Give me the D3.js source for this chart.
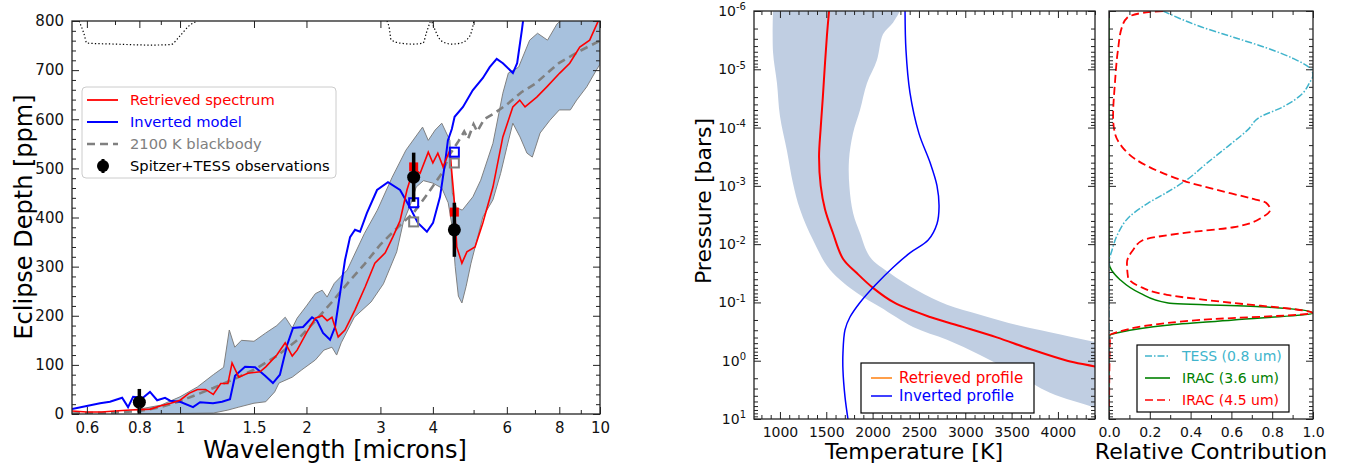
<!DOCTYPE html>
<html>
<head>
<meta charset="utf-8">
<script src="https://d3js.org/d3.v7.min.js"></script>
<style>
  body { margin: 0; background: #fff; }
  svg { font-family: "DejaVu Sans", sans-serif; }
</style>
</head>
<body>
<script>
// ---- left panel: emission spectrum (wavelength in microns, depth in ppm) ----
const retWave = [0.553,0.60,0.65,0.70,0.76,0.80,0.85,0.90,0.95,1.00,1.05,1.10,1.15,1.20,1.25,1.30,1.33,1.38,1.45,1.55,1.60,1.70,1.78,1.85,1.90,2.00,2.10,2.18,2.24,2.30,2.38,2.47,2.61,2.76,2.91,3.08,3.21,3.34,3.47,3.60,3.73,3.90,4.00,4.11,4.23,4.39,4.49,4.56,4.69,4.82,5.04,5.26,5.56,5.87,6.20,6.44,6.63,7.07,7.47,8.02,8.47,8.95,9.45,10.0];
const retDepth = [6,4,4,6,8,9,10,17,22,28,42,50,50,40,62,62,104,75,83,86,96,120,145,118,130,165,195,200,190,197,157,171,212,259,307,328,360,393,456,500,490,533,511,531,503,537,442,340,307,330,340,389,462,564,625,639,625,645,666,694,714,747,761,808];

const invWave = [0.553,0.645,0.681,0.728,0.752,0.773,0.816,0.848,0.882,0.921,0.947,1.0,1.074,1.116,1.198,1.259,1.315,1.352,1.428,1.509,1.594,1.664,1.729,1.798,1.858,1.963,2.062,2.119,2.190,2.276,2.339,2.405,2.470,2.540,2.610,2.683,2.785,2.945,3.127,3.341,3.525,3.685,3.871,4.003,4.160,4.276,4.343,4.438,4.506,4.718,4.976,5.262,5.462,5.676,5.872,6.203,6.349,6.517,6.627];
const invDepth = [10,22,25,33,14,35,33,45,28,33,27,25,14,24,22,25,30,78,96,95,78,63,80,140,175,177,197,190,165,151,177,246,313,360,375,371,409,456,472,456,421,389,371,389,442,511,557,580,605,625,659,684,706,723,714,694,714,782,830];

const bbWave = [0.553,0.60,0.70,0.80,0.90,1.00,1.10,1.20,1.35,1.50,1.70,1.90,2.10,2.30,2.50,2.75,3.00,3.30,3.60,3.90,4.20,4.40,4.60,4.75,4.85,5.00,5.10,5.30,5.60,6.00,6.50,7.00,8.00,9.00,10.0];
const bbDepth = [1,2,3,6,14,26,40,53,72,90,118,150,190,228,265,305,345,380,410,450,490,530,555,575,560,590,575,600,612,630,655,672,715,740,760];

const bandHiWave = [0.80,0.90,1.00,1.10,1.20,1.27,1.31,1.35,1.40,1.50,1.60,1.70,1.78,1.85,1.90,2.00,2.10,2.18,2.24,2.33,2.50,2.75,2.95,3.20,3.45,3.78,3.90,4.05,4.20,4.39,4.45,4.55,4.70,4.98,5.20,5.56,5.87,6.05,6.40,6.80,7.10,7.50,7.90,8.30,10.0];
const bandHi = [10,18,35,55,80,95,171,136,150,148,165,180,197,175,195,220,245,252,238,266,293,368,415,482,537,584,557,578,592,557,450,420,415,442,476,551,653,694,706,761,775,761,794,810,850];
const bandLoWave = [0.80,0.90,1.00,1.20,1.30,1.38,1.50,1.60,1.68,1.72,1.85,1.95,2.10,2.20,2.30,2.36,2.42,2.60,2.85,3.05,3.28,3.40,3.55,3.65,3.80,4.00,4.20,4.35,4.45,4.52,4.60,4.69,4.80,4.93,5.26,5.56,5.80,6.00,6.20,6.45,6.70,6.90,7.20,7.60,8.00,8.50,8.80,9.30,9.80,10.0];
const bandLo = [1,1,1,2,8,14,22,25,45,63,75,90,110,130,136,120,145,197,228,265,330,390,430,462,475,470,460,430,380,300,240,226,260,307,401,436,490,543,592,564,531,523,572,598,619,619,639,666,700,712];

// filter response curves drawn at the top of the panel
const tessWave = [0.575,0.59,0.60,0.70,0.85,0.95,1.00,1.05,1.10];
const tessResp = [800,775,755,753,751,752,770,790,800];
const irac1Wave = [3.11,3.15,3.18,3.34,3.60,3.79,3.86,3.94];
const irac1Resp = [800,785,762,755,753,755,776,798];
const irac2Wave = [3.98,4.08,4.16,4.30,4.44,4.65,4.82,4.95,5.01];
const irac2Resp = [798,775,762,755,753,755,762,780,800];

const obsWave = [0.8, 3.6, 4.5];
const obsDepth = [24, 482, 375];
const obsErr = [27, 50, 55];
const binWave = [3.6, 4.5];
const binRet = [503, 411];
const binInv = [430, 533];
const binBB = [391, 511];

const waveMajor = [0.6,0.8,1,1.5,2,3,4,6,8,10];
const waveMinor = [0.7,0.9,5,7,9];

// ---- middle panel: temperature profiles (log10 pressure in bars, temperature in K) ----
const retLogP = [-6,-5.6,-5.1,-4.5,-4.0,-3.5,-3.0,-2.6,-2.2,-1.75,-1.5,-1.25,-1.0,-0.75,-0.58,-0.4,-0.2,0.0,0.1,0.3];
const retT = [1530,1508,1486,1462,1440,1422,1440,1486,1570,1680,1832,2004,2230,2620,2975,3340,3700,4100,4400,4900];
const invLogP = [-6,-5.33,-4.6,-3.9,-3.4,-3.0,-2.64,-2.35,-2.07,-1.85,-1.6,-1.3,-1.0,-0.75,-0.53,-0.13,0.16,0.62,1.0];
const invT = [2350,2360,2403,2500,2620,2695,2717,2695,2600,2403,2220,2030,1864,1756,1702,1680,1680,1702,1734];
const tBandHiLogP = [-6,-5.8,-5.6,-5.16,-4.76,-4.3,-3.9,-3.44,-2.98,-2.53,-2.19,-1.78,-1.5,-1.21,-0.96,-0.79,-0.6,-0.49,-0.32,-0.1];
const tBandHiT = [2296,2220,2112,2047,1939,1864,1788,1745,1750,1790,1864,1972,2188,2479,2803,3159,3590,3914,4400,5000];
const tBandLoLogP = [-6,-5.3,-4.76,-4.2,-3.6,-3.05,-2.6,-2.07,-1.56,-1.16,-0.92,-0.58,-0.36,-0.1,0.2,0.55,0.81,1.0];
const tBandLoT = [925,925,968,1000,1076,1140,1216,1357,1540,1832,2080,2436,2803,3159,3520,3914,4400,4700];

// ---- right panel: contribution functions ----
const tessLogP = [-6,-5.73,-5.55,-5.37,-5.19,-5.0,-4.9,-4.75,-4.59,-4.35,-4.18,-3.96,-3.67,-3.39,-3.1,-2.88,-2.7,-2.47,-2.19,-1.9,-1.68,1.0];
const tessCf = [0.265,0.45,0.61,0.77,0.90,0.99,1.0,0.98,0.95,0.85,0.74,0.68,0.58,0.48,0.38,0.28,0.19,0.10,0.045,0.015,0.0,0.0];
const ch1LogP = [-6,-1.68,-1.39,-1.16,-0.99,-0.92,-0.82,-0.7,-0.61,-0.49,-0.44,-0.36,1.0];
const ch1Cf = [0,0,0.054,0.152,0.29,0.774,1.0,0.61,0.284,0.054,0.005,0,0];
const ch2LogP = [-6,-5.97,-5.88,-5.73,-5.33,-4.76,-4.18,-3.9,-3.67,-3.44,-3.24,-3.07,-2.93,-2.79,-2.71,-2.59,-2.47,-2.29,-2.19,-2.07,-1.9,-1.68,-1.44,-1.27,-1.13,-0.99,-0.87,-0.82,-0.7,-0.49,-0.44,1.0];
const ch2Cf = [0.265,0.167,0.088,0.064,0.044,0.029,0.02,0.029,0.064,0.137,0.25,0.38,0.53,0.69,0.77,0.79,0.755,0.61,0.363,0.167,0.118,0.088,0.093,0.152,0.284,0.61,0.936,1.0,0.446,0.04,0.005,0];

const pMajor = [1e-6,1e-5,1e-4,1e-3,1e-2,1e-1,1,10];
const tMajor = [1000,1500,2000,2500,3000,3500,4000];
const cfMajor = [0,0.2,0.4,0.6,0.8,1.0];

// ---------------------------------------------------------------------------
const svg = d3.select("body").append("svg").attr("width", 1346).attr("height", 469);

const L = {x0: 72, x1: 600, y0: 21, y1: 414};
const T = {x0: 754, x1: 1095, y0: 11, y1: 419};
const C = {x0: 1109, x1: 1313, y0: 11, y1: 419};

const xW = d3.scaleLog().domain([0.553, 10]).range([L.x0, L.x1]);
const yD = d3.scaleLinear().domain([0, 800]).range([L.y1, L.y0]);
const xT = d3.scaleLinear().domain([720, 4400]).range([T.x0, T.x1]);
const yP = d3.scaleLog().domain([1e-6, 10]).range([T.y0, T.y1]);
const xC = d3.scaleLinear().domain([0, 1]).range([C.x0, C.x1]);

const defs = svg.append("defs");
function clip(id, b) {
  defs.append("clipPath").attr("id", id).append("rect")
    .attr("x", b.x0).attr("y", b.y0).attr("width", b.x1 - b.x0).attr("height", b.y1 - b.y0);
}
clip("cl", L); clip("ct", T); clip("cc", C);

const zip = (a, b) => a.map((v, i) => [v, b[i]]);
const P = lp => Math.pow(10, lp);

// ticks pointing inward, on all four sides
function ticks(b, xs, ys, opt) {
  const g = svg.append("g");
  const fs = opt.fs || 14;
  const put = (gen, tr, vals, size, fmt) => {
    const a = g.append("g").attr("transform", tr)
      .call(gen.tickValues(vals).tickSizeInner(-size).tickSizeOuter(0).tickPadding(8)
        .tickFormat(fmt || ""));
    a.select(".domain").remove();
    a.selectAll("line").attr("stroke", "#222").attr("stroke-width", 1);
    a.selectAll("text").attr("font-size", fs).attr("fill", "#111")
      .attr("font-family", "DejaVu Sans, sans-serif");
    return a;
  };
  put(d3.axisBottom(xs), `translate(0,${b.y1})`, opt.xMajor, 7, opt.xFmt);
  put(d3.axisTop(xs), `translate(0,${b.y0})`, opt.xMajor, 7);
  put(d3.axisBottom(xs), `translate(0,${b.y1})`, opt.xMinor, 4);
  put(d3.axisTop(xs), `translate(0,${b.y0})`, opt.xMinor, 4);
  const yl = put(d3.axisLeft(ys), `translate(${b.x0},0)`, opt.yMajor, 7, opt.yFmt);
  put(d3.axisRight(ys), `translate(${b.x1},0)`, opt.yMajor, 7);
  put(d3.axisLeft(ys), `translate(${b.x0},0)`, opt.yMinor, 4);
  put(d3.axisRight(ys), `translate(${b.x1},0)`, opt.yMinor, 4);
  svg.append("rect").attr("x", b.x0).attr("y", b.y0)
    .attr("width", b.x1 - b.x0).attr("height", b.y1 - b.y0)
    .attr("fill", "none").attr("stroke", "#222").attr("stroke-width", 1.3);
  return yl;
}

// ================= left panel =================
const gL = svg.append("g").attr("clip-path", "url(#cl)");
const lineW = d3.line().x(d => xW(d[0])).y(d => yD(d[1]));

const bandPts = zip(bandHiWave, bandHi).concat(zip(bandLoWave, bandLo).reverse());
gL.append("path").attr("d", lineW(bandPts) + "Z")
  .attr("fill", "#a7c1dd").attr("stroke", "#808080").attr("stroke-width", 1);

[[tessWave, tessResp], [irac1Wave, irac1Resp], [irac2Wave, irac2Resp]].forEach(([w, r]) => {
  gL.append("path").attr("d", lineW.curve(d3.curveMonotoneX)(zip(w, r)))
    .attr("fill", "none").attr("stroke", "#000").attr("stroke-width", 1.2)
    .attr("stroke-dasharray", "1.3,2.2");
});
lineW.curve(d3.curveLinear);

gL.append("path").attr("d", lineW(zip(bbWave, bbDepth)))
  .attr("fill", "none").attr("stroke", "#808080").attr("stroke-width", 2.6)
  .attr("stroke-dasharray", "8,5");
gL.append("path").attr("d", lineW(zip(invWave, invDepth)))
  .attr("fill", "none").attr("stroke", "#0000ff").attr("stroke-width", 2);
gL.append("path").attr("d", lineW(zip(retWave, retDepth)))
  .attr("fill", "none").attr("stroke", "#ff0000").attr("stroke-width", 1.6);

const sq = 9;
binWave.forEach((w, i) => {
  gL.append("rect").attr("x", xW(w) - sq / 2).attr("y", yD(binRet[i]) - sq / 2)
    .attr("width", sq).attr("height", sq).attr("fill", "#ff0000");
  gL.append("rect").attr("x", xW(w) - sq / 2).attr("y", yD(binBB[i]) - sq / 2)
    .attr("width", sq).attr("height", sq).attr("fill", "none")
    .attr("stroke", "#808080").attr("stroke-width", 2);
  gL.append("rect").attr("x", xW(w) - sq / 2).attr("y", yD(binInv[i]) - sq / 2)
    .attr("width", sq).attr("height", sq).attr("fill", "none")
    .attr("stroke", "#0000ff").attr("stroke-width", 2);
});
obsWave.forEach((w, i) => {
  gL.append("line").attr("x1", xW(w)).attr("x2", xW(w))
    .attr("y1", yD(obsDepth[i] - obsErr[i])).attr("y2", yD(obsDepth[i] + obsErr[i]))
    .attr("stroke", "#000").attr("stroke-width", 3.5);
  gL.append("circle").attr("cx", xW(w)).attr("cy", yD(obsDepth[i])).attr("r", 6.5).attr("fill", "#000");
});

ticks(L, xW, yD, {
  fs: 15,
  xMajor: waveMajor, xMinor: waveMinor, xFmt: d => String(d),
  yMajor: d3.range(0, 801, 100), yMinor: d3.range(0, 801, 20).filter(v => v % 100),
  yFmt: d => String(d)
});

svg.append("text").attr("x", 335).attr("y", 458).attr("text-anchor", "middle")
  .attr("font-size", 24).text("Wavelength [microns]");
svg.append("text").attr("transform", "translate(32,217) rotate(-90)").attr("text-anchor", "middle")
  .attr("font-size", 24).text("Eclipse Depth [ppm]");

// legend
const lg = svg.append("g");
lg.append("rect").attr("x", 82).attr("y", 87).attr("width", 254).attr("height", 91).attr("rx", 4)
  .attr("fill", "#fff").attr("fill-opacity", 0.8).attr("stroke", "#cccccc");
const legL = [
  {t: "Retrieved spectrum", c: "#ff0000", tc: "#ff0000", w: 1.8},
  {t: "Inverted model", c: "#0000ff", tc: "#0000ff", w: 2},
  {t: "2100 K blackbody", c: "#808080", tc: "#808080", w: 2.6, dash: "8,5"},
  {t: "Spitzer+TESS observations", c: "#000", tc: "#000", pt: true}
];
legL.forEach((e, i) => {
  const y = 100 + i * 22;
  if (e.pt) {
    lg.append("line").attr("x1", 103).attr("x2", 103).attr("y1", y - 7).attr("y2", y + 7)
      .attr("stroke", "#000").attr("stroke-width", 3);
    lg.append("circle").attr("cx", 103).attr("cy", y).attr("r", 6).attr("fill", "#000");
  } else {
    lg.append("line").attr("x1", 87).attr("x2", 118).attr("y1", y).attr("y2", y)
      .attr("stroke", e.c).attr("stroke-width", e.w).attr("stroke-dasharray", e.dash || null);
  }
  lg.append("text").attr("x", 130).attr("y", y + 5).attr("font-size", 14.7).attr("fill", e.tc).text(e.t);
});

// ================= temperature panel =================
const gT = svg.append("g").attr("clip-path", "url(#ct)");
const lineT = d3.line().x(d => xT(d[0])).y(d => yP(P(d[1]))).curve(d3.curveCatmullRom);
const tBand = zip(tBandHiT, tBandHiLogP).concat(zip(tBandLoT, tBandLoLogP).reverse());
gT.append("path").attr("d", lineT(tBand) + "Z").attr("fill", "#c0cee2").attr("stroke", "none");
gT.append("path").attr("d", lineT(zip(retT, retLogP))).attr("fill", "none")
  .attr("stroke", "#ff0000").attr("stroke-width", 2);
gT.append("path").attr("d", lineT(zip(invT, invLogP))).attr("fill", "none")
  .attr("stroke", "#0000ff").attr("stroke-width", 1.5);

const pMinor = [];
pMajor.slice(0, -1).forEach(p => { for (let k = 2; k <= 9; k++) pMinor.push(p * k); });
const yAx = ticks(T, xT, yP, {
  xMajor: tMajor, xMinor: d3.range(800, 4401, 100).filter(v => v % 500), xFmt: d => String(d),
  yMajor: pMajor, yMinor: pMinor, yFmt: d => "x"
});
yAx.selectAll("text").each(function (d) {
  const e = Math.round(Math.log10(d));
  const t = d3.select(this).text(null);
  t.append("tspan").text("10");
  t.append("tspan").attr("dy", "-0.55em").attr("font-size", 10).text(e);
});

svg.append("text").attr("x", 914).attr("y", 459).attr("text-anchor", "middle")
  .attr("font-size", 22).text("Temperature [K]");
svg.append("text").attr("transform", "translate(711,201) rotate(-90)").attr("text-anchor", "middle")
  .attr("font-size", 22).text("Pressure [bars]");

const lt = svg.append("g");
lt.append("rect").attr("x", 861).attr("y", 363).attr("width", 173).attr("height", 50)
  .attr("fill", "#fff").attr("stroke", "#000").attr("stroke-width", 1.2);
[["Retrieved profile", "#ff7f0e", "#ff0000"], ["Inverted profile", "#0000ff", "#0000ff"]].forEach((e, i) => {
  const y = 378 + i * 18;
  lt.append("line").attr("x1", 871).attr("x2", 892).attr("y1", y).attr("y2", y)
    .attr("stroke", e[1]).attr("stroke-width", 1.5);
  lt.append("text").attr("x", 899).attr("y", y + 5).attr("font-size", 15).attr("fill", e[2]).text(e[0]);
});

// ================= contribution panel =================
const gC = svg.append("g").attr("clip-path", "url(#cc)");
const lineC = d3.line().x(d => xC(d[0])).y(d => yP(P(d[1]))).curve(d3.curveMonotoneY);
gC.append("path").attr("d", lineC(zip(ch1Cf, ch1LogP))).attr("fill", "none")
  .attr("stroke", "#008000").attr("stroke-width", 1.5);
gC.append("path").attr("d", lineC(zip(tessCf, tessLogP))).attr("fill", "none")
  .attr("stroke", "#40b4cc").attr("stroke-width", 1.5).attr("stroke-dasharray", "7,2,1.5,2");
gC.append("path").attr("d", lineC(zip(ch2Cf, ch2LogP))).attr("fill", "none")
  .attr("stroke", "#ff0000").attr("stroke-width", 1.8).attr("stroke-dasharray", "8,4");

ticks(C, xC, yP, {
  xMajor: cfMajor, xMinor: [0.1,0.3,0.5,0.7,0.9], xFmt: d3.format(".1f"),
  yMajor: pMajor, yMinor: pMinor
});
svg.append("text").attr("x", 1211).attr("y", 459).attr("text-anchor", "middle")
  .attr("font-size", 22).text("Relative Contribution");

const lc = svg.append("g");
lc.append("rect").attr("x", 1137).attr("y", 345).attr("width", 152).attr("height", 67)
  .attr("fill", "#fff").attr("stroke", "#000").attr("stroke-width", 1.2);
[["TESS (0.8 um)", "#40b4cc", "7,2,1.5,2"], ["IRAC (3.6 um)", "#008000", null], ["IRAC (4.5 um)", "#ff0000", "8,4"]]
  .forEach((e, i) => {
    const y = 356 + i * 22;
    lc.append("line").attr("x1", 1145).attr("x2", 1170).attr("y1", y).attr("y2", y)
      .attr("stroke", e[1]).attr("stroke-width", 1.6).attr("stroke-dasharray", e[2]);
    lc.append("text").attr("x", 1182).attr("y", y + 5).attr("font-size", 14).attr("fill", e[1]).text(e[0]);
  });
</script>
</body>
</html>
